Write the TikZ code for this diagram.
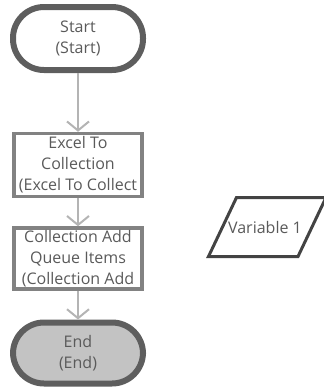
\documentclass[tikz,border=0pt]{standalone}
\usepackage{fontspec}
\setmainfont{Open Sans}
\usetikzlibrary{arrows.meta}
\tikzset{>={Straight Barb[length=9pt,width=22pt]}}
\definecolor{termline}{HTML}{5E5E5E}
\definecolor{boxline}{HTML}{828282}
\definecolor{flowline}{HTML}{B4B4B4}
\definecolor{endfill}{HTML}{C3C3C3}
\definecolor{varline}{HTML}{434343}
\definecolor{txt}{HTML}{5A5A5A}
\tikzset{
  terminal/.style={draw=termline,line width=6pt,rounded corners=31pt,minimum width=130pt,minimum height=63pt,inner sep=0pt},
  action/.style={draw=boxline,line width=3.5pt,minimum width=128pt,inner sep=0pt},
  flow/.style={->,draw=flowline,line width=2pt},
  nodetext/.style={text=txt,align=center,font=\fontsize{16}{21}\selectfont},
}

\begin{document}
\begin{tikzpicture}[x=1pt,y=-1pt]
  \pgfmathsetmacro{\MidX}{78};
  \pgfmathsetmacro{\Slant}{28};
  \useasboundingbox (0,0) rectangle (324,392);
  % 
  \node[terminal,nodetext] (start) at (\MidX,38.5) {Start\\(Start)};
  \node[action,nodetext,minimum height=63pt] (excel) at (\MidX,165) {Excel To\\Collection\\(Excel To Collect};
  \node[action,nodetext,minimum height=61pt] (addq) at (\MidX,258.5) {Collection Add\\Queue Items\\(Collection Add};
  \node[terminal,nodetext,fill=endfill,minimum height=61pt] (stop) at (\MidX,353) {End\\(End)};
  % 
  \draw[flow] (start) -- (excel);
  \draw[flow] (excel) -- (addq);
  \draw[flow] (addq) -- (stop);
  % 
  \draw[varline,line width=3pt,line join=miter] (208.5,256.5) coordinate (VA) -- (298,256.5) coordinate (VB) -- ++({\Slant},-59) coordinate (VC) -- ++(-89.5,0) coordinate (VD) -- cycle;
  \node[nodetext] (var) at (265,227) {Variable 1};
\end{tikzpicture}
\end{document}
